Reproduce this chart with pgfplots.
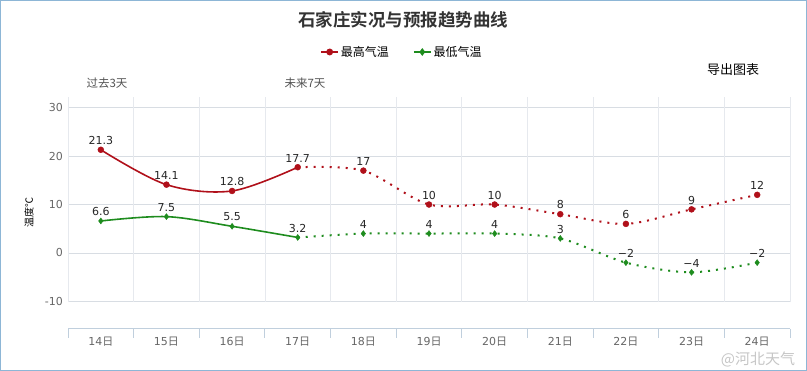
\documentclass[border=0pt]{standalone}
\usepackage{pgfplots}
\pgfplotsset{compat=1.18}
\usepackage{fontspec}
\setmainfont{DejaVu Sans}
\newfontfamily\cjk{Noto Sans CJK SC}
\newfontfamily\cjkb{Noto Sans CJK SC Bold}
\definecolor{rc}{HTML}{B0101A}
\definecolor{gc}{HTML}{1E8C1E}
\definecolor{hgrid}{HTML}{D8DDE3}
\definecolor{vgrid}{HTML}{E6E9EE}
\definecolor{axc}{HTML}{C0CFDD}
\definecolor{bord}{HTML}{8DB6D6}
\definecolor{tickc}{HTML}{666666}
\definecolor{darkt}{HTML}{333333}
\begin{document}
\begin{tikzpicture}
\useasboundingbox (0,0) rectangle (807pt,371pt);
\draw[bord, line width=1.2pt] (0.8pt,0.8pt) rectangle (806.2pt,370.2pt);
\begin{axis}[
  at={(68pt,42pt)}, anchor=south west, scale only axis,
  width=722pt, height=232pt,
  xmin=0, xmax=11, ymin=-15.7, ymax=32.2,
  axis line style={draw=none}, clip=false,
  ytick={-10,0,10,20,30}, ymajorgrids,
  grid style={hgrid, line width=0.8pt},
  major tick length=0pt,
  xtick={0.5,1.5,2.5,3.5,4.5,5.5,6.5,7.5,8.5,9.5,10.5},
  xticklabels={14{\cjk 日},15{\cjk 日},16{\cjk 日},17{\cjk 日},18{\cjk 日},19{\cjk 日},20{\cjk 日},21{\cjk 日},22{\cjk 日},23{\cjk 日},24{\cjk 日}},
  xticklabel style={font=\fontsize{11}{13}\selectfont, text=tickc, anchor=north, inner sep=0pt},
  xticklabel shift=8pt,
  yticklabel style={font=\fontsize{11}{13}\selectfont, text=tickc, anchor=east, inner sep=0pt},
  yticklabel shift=5pt,
  /pgf/number format/assume math mode=true,
  ylabel={\cjk 温度℃}, ylabel style={font=\fontsize{12}{13}\selectfont, text=darkt},
  every axis y label/.style={at={(-39pt,0.5)}, rotate=90, anchor=center},
  legend columns=2,
  legend style={at={(0.4626,1.194)}, anchor=center, draw=none, fill=none,
    font=\fontsize{12}{14}\selectfont, inner sep=0pt,
    /tikz/every even column/.append style={column sep=22pt}},
  legend image code/.code={\draw[mark repeat=2,mark phase=2,#1] plot coordinates {(0pt,0pt)(8.5pt,0pt)(17pt,0pt)};},
]
% vertical grid and bottom ticks
\pgfplotsinvokeforeach{0,1,2,3,4,5,6,7,8,9,10,11}{
  \draw[vgrid, line width=0.8pt] (axis cs:#1,-10.2) -- (axis cs:#1,32.2);
  \draw[axc, line width=0.9pt] (axis cs:#1,-15.7) -- ++(0pt,-9pt);
}
\draw[axc, line width=1pt] (axis cs:0,-15.7) -- (axis cs:11,-15.7);

\addlegendimage{rc, line width=1.6pt, mark=*, mark size=2.6pt}
\addlegendentry{\cjk 最高气温}
\addlegendimage{gc, line width=1.6pt, mark=diamond*, mark size=2.6pt}
\addlegendentry{\cjk 最低气温}

% max temperature
\addplot[rc, line width=1.6pt, smooth, tension=0.55, forget plot]
  coordinates {(0.5,21.3)(1.5,14.1)(2.5,12.8)(3.5,17.7)};
\addplot[rc, line width=2pt, smooth, tension=0.5, dash pattern=on 2pt off 6pt, forget plot]
  coordinates {(3.5,17.7)(4.5,17)(5.5,10)(6.5,10)(7.5,8)(8.5,6)(9.5,9)(10.5,12)};
% min temperature
\addplot[gc, line width=1.6pt, smooth, tension=0.55, forget plot]
  coordinates {(0.5,6.6)(1.5,7.5)(2.5,5.5)(3.5,3.2)};
\addplot[gc, line width=2pt, smooth, tension=0.5, dash pattern=on 2pt off 6pt, forget plot]
  coordinates {(3.5,3.2)(4.5,4)(5.5,4)(6.5,4)(7.5,3)(8.5,-2)(9.5,-4)(10.5,-2)};

\addplot[only marks, mark=*, rc, mark size=3pt, forget plot,
  nodes near coords, point meta=explicit symbolic,
  nodes near coords style={font=\fontsize{11}{12}\selectfont, text=black!85, anchor=south, inner sep=0pt, yshift=5pt}]
  table[meta=l] {
x y l
0.5 21.3 21.3
1.5 14.1 14.1
2.5 12.8 12.8
3.5 17.7 17.7
4.5 17 17
5.5 10 10
6.5 10 10
7.5 8 8
8.5 6 6
9.5 9 9
10.5 12 12
};
\addplot[only marks, mark=diamond*, gc, mark size=3pt, forget plot,
  nodes near coords, point meta=explicit symbolic,
  nodes near coords style={font=\fontsize{11}{12}\selectfont, text=black!85, anchor=south, inner sep=0pt, yshift=5pt}]
  table[meta=l] {
x y l
0.5 6.6 6.6
1.5 7.5 7.5
2.5 5.5 5.5
3.5 3.2 3.2
4.5 4 4
5.5 4 4
6.5 4 4
7.5 3 3
8.5 -2 −2
9.5 -4 −4
10.5 -2 −2
};
\end{axis}
\node[font=\cjkb\fontsize{17.5}{20}\selectfont, text=darkt] at (403pt,351pt) {石家庄实况与预报趋势曲线};
\node[font=\cjk\fontsize{13}{15}\selectfont, text=black] at (733pt,301pt) {导出图表};
\node[font=\cjk\fontsize{11.5}{13}\selectfont, text=darkt!85, anchor=west] at (83pt,288pt) {过去3天};
\node[font=\cjk\fontsize{11.5}{13}\selectfont, text=darkt!85, anchor=west] at (281pt,288pt) {未来7天};
\node[font=\cjk\fontsize{15}{16}\selectfont, text=gray, opacity=0.45, inner sep=0pt] at (758pt,12pt) {@河北天气};
\end{tikzpicture}
\end{document}
